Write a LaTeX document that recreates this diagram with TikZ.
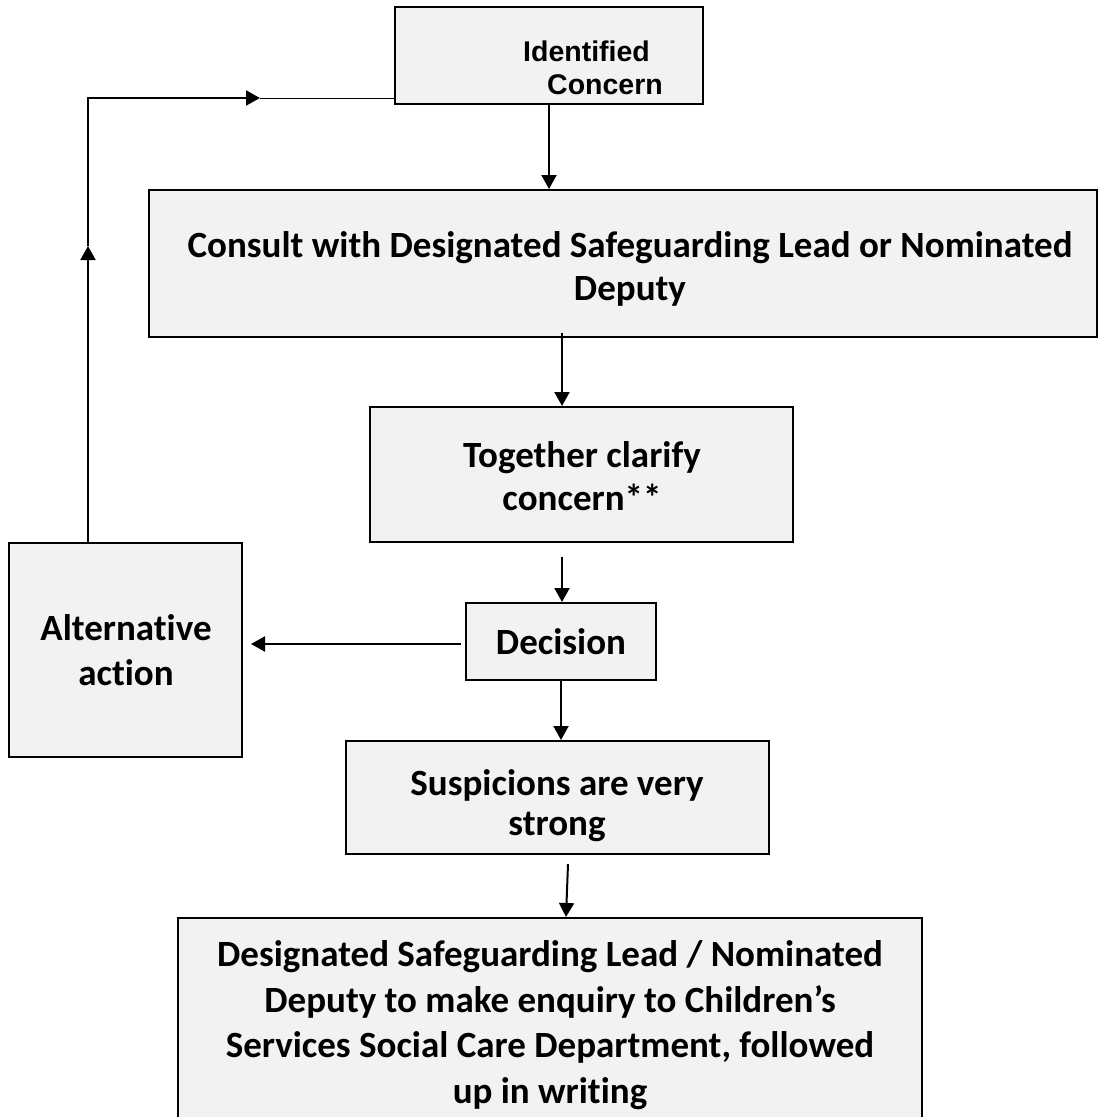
\documentclass[tikz,border=0pt]{standalone}
\usepackage{fontspec}
\setmainfont{Carlito}[Ligatures=NoCommon]
\newfontfamily\arialfont{Liberation Sans}
\usetikzlibrary{arrows.meta}
\definecolor{boxgray}{HTML}{F2F2F2}
\begin{document}
\begin{tikzpicture}[x=1pt,y=-1pt,
  box/.style={draw=black, line width=2pt, fill=boxgray, inner sep=0pt},
  txt/.style={inner sep=0pt, align=center, font=\bfseries\fontsize{37}{44}\selectfont},
  arr/.style={line width=2pt, -{Triangle[length=14pt,width=15pt]}},
  thinline/.style={line width=1pt},
  ictext/.style={inner sep=0pt, anchor=base west, font=\arialfont\bfseries\fontsize{28.5}{33}\selectfont}
]
\useasboundingbox (0,0) rectangle (1098,1117);
\clip (0,0) rectangle (1098,1117);

% boxes
\node[box, minimum width=308pt, minimum height=97pt] (ic) at (549,55.5) {};
\node[ictext] (ict1) at (523,61) {Identified};
\node[ictext] (ict2) at (547,94) {Concern};

\node[box, minimum width=948pt, minimum height=147pt] (consult) at (623,263.5) {};
\node[txt, font=\bfseries\fontsize{37}{43}\selectfont] (consultt) at (630,268.5)
  {Consult with Designated Safeguarding Lead or Nominated\\Deputy};

\node[box, minimum width=423pt, minimum height=135pt] (tog) at (581.5,474.5) {};
\node[txt, font=\bfseries\fontsize{37}{43}\selectfont] (togt) at (582,476)
  {Together clarify\\concern**};

\node[box, minimum width=190pt, minimum height=77pt] (dec) at (561,641.5) {};
\node[txt] (dect) at (561,642) {Decision};

\node[box, minimum width=233pt, minimum height=214pt] (alt) at (125.5,650) {};
\node[txt, font=\bfseries\fontsize{37}{45}\selectfont] (altt) at (126,650.5) {Alternative\\action};

\node[box, minimum width=423pt, minimum height=113pt] (sus) at (557.5,797.5) {};
\node[txt, font=\bfseries\fontsize{37}{40}\selectfont] (sust) at (557,806) {Suspicions are very\\strong};

\node[box, minimum width=744pt, minimum height=208pt] (final) at (550,1022) {};
\node[txt, font=\bfseries\fontsize{37}{45.5}\selectfont] (finalt) at (550,1025)
  {Designated Safeguarding Lead / Nominated\\Deputy to make enquiry to Children’s\\Services Social Care Department, followed\\up in writing};

% connectors
\coordinate (a2) at (562,333);
\coordinate (a3) at (562,557);
\coordinate (a5) at (568,864);
\coordinate (x5) at (566,0);
\coordinate (a6) at (461,644);
\coordinate (a7) at (88,246);
\coordinate (a8) at (260,98);

\draw[arr] (ic.south) -- (ic.south |- consult.north);
\draw[arr] (a2) -- (a2 |- tog.north);
\draw[arr] (a3) -- (a3 |- dec.north);
\draw[arr] (dec.south) -- (dec.south |- sus.north);
\draw[arr] (a5) -- (x5 |- final.north);
\draw[arr] (a6) -- ([xshift=8pt]alt.east |- a6);
\draw[arr] (alt.north -| a7) -- (a7);
\draw[arr] (a7) |- (a8);
\draw[thinline] (a8) -- (ic.west |- a8);
\end{tikzpicture}
\end{document}
